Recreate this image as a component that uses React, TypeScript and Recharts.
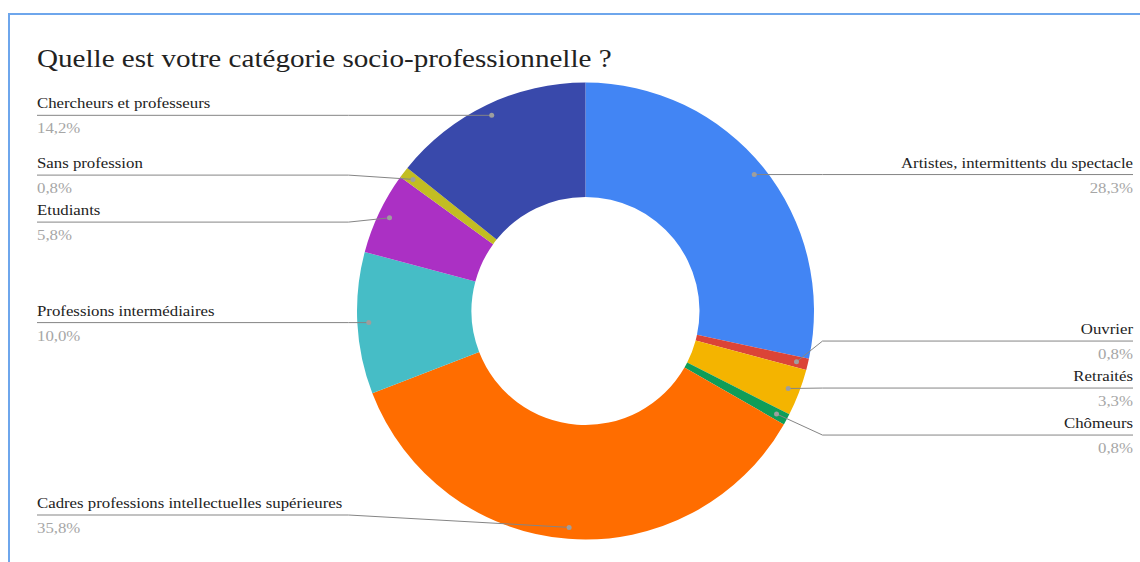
import React from "react";
import { PieChart, Pie, Cell } from "recharts";

const categories = [
  "Artistes, intermittents du spectacle",
  "Ouvrier",
  "Retraités",
  "Chômeurs",
  "Cadres professions intellectuelles supérieures",
  "Professions intermédiaires",
  "Etudiants",
  "Sans profession",
  "Chercheurs et professeurs",
];
const percentages = [28.3, 0.8, 3.3, 0.8, 35.8, 10.0, 5.8, 0.8, 14.2];
const colors = [
  "#4285f4",
  "#db4437",
  "#f4b400",
  "#0f9d58",
  "#ff6d00",
  "#46bdc6",
  "#ab30c4",
  "#c2bd22",
  "#3949ab",
];
const title = "Quelle est votre catégorie socio-professionnelle ?";

const data = categories.map((name, i) => ({ name, value: percentages[i] }));

// geometry / layout constants
const W = 1140;
const H = 562;
const CX = 585.5;
const CY = 311;
const OUTER = 228.5;
const INNER = 114;
const DOT_R = 217;
const ELBOW = 237;
const LEFT_X = 37;
const RIGHT_X = 1133;
const SPACING = 47;
const MIN_Y = 100;
const MAX_Y = 515;
const RAD = Math.PI / 180;
const FONT = "'Liberation Serif', 'Times New Roman', serif";
const STRETCH = 1.12;

type Item = { index: number; desired: number };
type Cluster = { items: Item[]; start: number };

function solveCluster(c: Cluster) {
  const n = c.items.length;
  let s = 0;
  c.items.forEach((it, k) => (s += it.desired - k * SPACING));
  let start = s / n;
  if (start + (n - 1) * SPACING > MAX_Y) start = MAX_Y - (n - 1) * SPACING;
  if (start < MIN_Y) start = MIN_Y;
  c.start = start;
}

function layoutSide(items: Item[]): Record<number, number> {
  const sorted = [...items].sort((a, b) => a.desired - b.desired);
  let clusters: Cluster[] = sorted.map((it) => ({ items: [it], start: it.desired }));
  clusters.forEach(solveCluster);
  let changed = true;
  while (changed) {
    changed = false;
    for (let i = 0; i < clusters.length - 1; i++) {
      const a = clusters[i];
      const b = clusters[i + 1];
      if (b.start < a.start + a.items.length * SPACING) {
        const merged: Cluster = { items: [...a.items, ...b.items], start: 0 };
        solveCluster(merged);
        clusters.splice(i, 2, merged);
        changed = true;
        break;
      }
    }
  }
  const out: Record<number, number> = {};
  clusters.forEach((c) => c.items.forEach((it, k) => (out[it.index] = c.start + k * SPACING)));
  return out;
}

const total = percentages.reduce((a, b) => a + b, 0);
const layout = (() => {
  let acc = 0;
  const left: Item[] = [];
  const right: Item[] = [];
  const info: { angle: number; side: "left" | "right" }[] = [];
  percentages.forEach((v, i) => {
    const mid = (acc + v / 2) / total;
    acc += v;
    const angle = 90 - 360 * mid;
    const dy = CY - DOT_R * Math.sin(angle * RAD);
    const side = Math.cos(angle * RAD) >= 0 ? "right" : "left";
    info.push({ angle, side });
    (side === "right" ? right : left).push({ index: i, desired: dy });
  });
  const ys = { ...layoutSide(left), ...layoutSide(right) };
  return info.map((inf, i) => ({ ...inf, lineY: ys[i] }));
})();

const fmt = (v: number) => v.toFixed(1).replace(".", ",") + "%";

const renderLabel = (props: any) => {
  const { cx, cy, midAngle, index, name, value } = props;
  const lay = layout[index];
  const dx = cx + DOT_R * Math.cos(-midAngle * RAD);
  const dy = cy + DOT_R * Math.sin(-midAngle * RAD);
  const right = lay.side === "right";
  const ex = right ? cx + ELBOW : cx - ELBOW;
  const L = lay.lineY;
  const tx = right ? RIGHT_X : LEFT_X;
  const anchor = right ? "end" : "start";
  return (
    <g>
      <polyline
        points={`${dx},${dy} ${ex},${L} ${tx},${L}`}
        fill="none"
        stroke="#858585"
        strokeWidth={1}
      />
      <circle cx={dx} cy={dy} r={2.5} fill="#9e9e9e" />
      <text
        transform={`translate(${tx},${L - 7}) scale(${STRETCH},1)`}
        x={0}
        y={0}
        textAnchor={anchor}
        fontFamily={FONT}
        fontSize={15}
        fill="#222222"
      >
        {name}
      </text>
      <text
        transform={`translate(${tx},${L + 18}) scale(${STRETCH},1)`}
        x={0}
        y={0}
        textAnchor={anchor}
        fontFamily={FONT}
        fontSize={15}
        fill="#a6a6a6"
      >
        {fmt(value)}
      </text>
    </g>
  );
};

export default function App() {
  return (
    <div
      style={{
        position: "absolute",
        left: 0,
        top: 0,
        width: W,
        height: H,
        background: "#ffffff",
        overflow: "hidden",
      }}
    >
      <div
        style={{
          position: "absolute",
          left: 8,
          top: 13,
          width: W,
          height: H,
          borderTop: "2px solid #6ea6ec",
          borderLeft: "2px solid #6ea6ec",
        }}
      />
      <svg
        width={W}
        height={80}
        style={{ position: "absolute", left: 0, top: 0 }}
      >
        <text
          transform={`translate(37,67) scale(1.165,1)`}
          x={0}
          y={0}
          fontFamily={FONT}
          fontSize={25}
          fill="#222222"
        >
          {title}
        </text>
      </svg>
      <div style={{ position: "absolute", left: 0, top: 0 }}>
        <PieChart width={W} height={H} margin={{ top: 0, right: 0, bottom: 0, left: 0 }}>
          <Pie
            data={data}
            dataKey="value"
            nameKey="name"
            cx={CX}
            cy={CY}
            outerRadius={OUTER}
            innerRadius={INNER}
            startAngle={90}
            endAngle={-270}
            stroke="none"
            label={renderLabel}
            labelLine={false}
            isAnimationActive={false}
          >
            {data.map((d, i) => (
              <Cell key={d.name} fill={colors[i]} />
            ))}
          </Pie>
        </PieChart>
      </div>
    </div>
  );
}
